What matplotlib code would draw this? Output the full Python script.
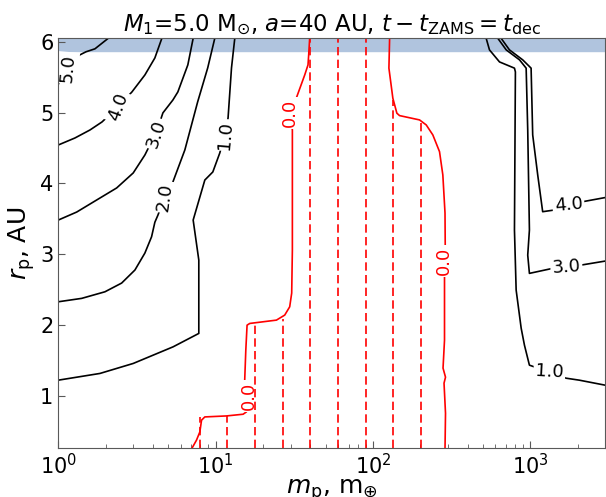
import numpy as np
import matplotlib.pyplot as plt

# контуры: m_p в массах Земли, r_p в AU
# чёрные контуры слева (уровни 5, 4, 3, 2, 1)
c5_m = [1.0, 1.071, 1.152, 1.296, 1.50, 1.71, 2.078]
c5_r = [5.40, 5.52, 5.64, 5.788, 5.859, 5.901, 6.05]

c4_m = [1.0, 1.276, 1.590, 1.895, 2.393, 2.938, 3.552, 4.11, 4.553]
c4_r = [4.543, 4.642, 4.755, 4.868, 5.080, 5.292, 5.532, 5.772, 6.05]

c3_m = [1.0, 1.309, 1.753, 2.349, 2.994, 3.552, 3.821, 4.172, 4.623, 5.35, 5.754, 6.66, 7.2]
c3_r = [3.483, 3.596, 3.766, 3.936, 4.148, 4.402, 4.543, 4.699, 4.996, 5.178, 5.292, 5.674, 6.05]

c2_m = [1.0, 1.408, 1.979, 2.527, 3.069, 3.552, 3.917, 4.11, 4.296, 4.76, 5.35, 6.375, 7.69, 8.91, 9.88]
c2_r = [2.329, 2.377, 2.47, 2.593, 2.777, 3.017, 3.247, 3.452, 3.551, 3.808, 4.02, 4.473, 5.152, 5.632, 6.05]

c1_m = [1.0, 1.84, 2.994, 5.37, 7.82, 7.82, 7.82, 7.2, 8.54, 9.6, 10.63, 11.44, 12.0, 12.62, 13.24]
c1_r = [1.222, 1.317, 1.458, 1.693, 1.882, 2.353, 2.918, 3.483, 4.048, 4.162, 4.43, 4.684, 4.924, 5.632, 6.05]

# чёрные контуры справа (уровни 1, 3, 4)
d1_m = [524.8, 550.8, 637.9, 794, 805, 794, 813.9, 875.8, 918.9, 988.3, 1324, 1690, 2052, 3000]
d1_r = [6.05, 5.886, 5.716, 5.628, 5.575, 3.342, 2.494, 1.957, 1.717, 1.434, 1.335, 1.25, 1.222, 1.151]

d3_m = [622.3, 703.6, 855.1, 942.2, 964.2, 988.3, 964.2, 988.3, 1389, 1698, 2103, 3000]
d3_r = [6.05, 5.886, 5.745, 5.628, 4.755, 3.342, 2.988, 2.73, 2.801, 2.819, 2.847, 2.904]

d4_m = [653.1, 737.9, 896.1, 1013, 1037, 1116, 1200, 1425, 1750, 2154, 3000]
d4_r = [6.05, 5.886, 5.745, 5.628, 4.685, 4.12, 3.601, 3.625, 3.695, 3.742, 3.801]

# красные контуры уровня 0
z1_m = [7.03, 7.56, 7.94, 8.14, 8.54, 11.73, 14.95, 15.71, 16.25, 15.31, 15.56, 15.85, 16.49,
        24.36, 27.5, 29.58, 30.46, 30.76, 30.76, 30.76, 29.58, 32.78, 36.86, 38.67, 39.06, 39.63]
z1_r = [0.25, 0.375, 0.491, 0.657, 0.703, 0.717, 0.741, 0.774, 0.996, 1.222, 1.646, 1.999, 2.023,
        2.07, 2.141, 2.258, 2.452, 3.059, 3.837, 4.755, 4.995, 5.221, 5.532, 5.674, 5.815, 6.05]

z2_m = [127.7, 126.4, 133.9, 142, 147.7, 197.9, 218.3, 240.4, 265.1, 278.3, 287.3, 288.2, 281.2,
        285.2, 285.2, 279.1, 289.4, 283.2, 289.4, 287.3]
z2_r = [6.05, 5.628, 5.203, 4.992, 4.958, 4.897, 4.826, 4.685, 4.449, 4.12, 3.582, 3.13, 2.904,
        2.707, 1.787, 1.392, 1.264, 1.18, 0.755, 0.25]

# пунктирные вертикали: масса и верхний край
dash_m = [7.9, 11.85, 17.8, 26.7, 40, 60, 90, 135, 202.5]
dash_top = [0.70, 0.713, 2.013, 2.09, 6.05, 6.05, 6.05, 5.18, 4.854]

# подписи контуров: текст, m, r, поворот, цвет
labels = [
    ('5.0', 1.152, 5.63, 85, 'k'),
    ('4.0', 2.393, 5.08, 70, 'k'),
    ('3.0', 4.172, 4.699, 72, 'k'),
    ('2.0', 4.76, 3.808, 82, 'k'),
    ('1.0', 11.44, 4.684, 85, 'k'),
    ('4.0', 1750, 3.695, 5, 'k'),
    ('3.0', 1698, 2.819, 4, 'k'),
    ('1.0', 1324, 1.335, -3, 'k'),
    ('0.0', 29.58, 4.995, 90, 'r'),
    ('0.0', 16.25, 0.996, 90, 'r'),
    ('0.0', 281.2, 2.904, 90, 'r'),
]

r_limit = 5.866
ylim = (0.26, 6.05)
xlim = (1, 3000)

fig, ax = plt.subplots(figsize=(6.06, 4.97), dpi=100)
fig.subplots_adjust(left=0.0962, right=0.9988, bottom=0.098, top=0.923)

ax.axhspan(r_limit, ylim[1], color='lightsteelblue', zorder=0)

for m, r in [(c5_m, c5_r), (c4_m, c4_r), (c3_m, c3_r), (c2_m, c2_r), (c1_m, c1_r),
             (d1_m, d1_r), (d3_m, d3_r), (d4_m, d4_r)]:
    ax.plot(m, r, color='k', lw=1.2, zorder=2)
for m, r in [(z1_m, z1_r), (z2_m, z2_r)]:
    ax.plot(m, r, color='r', lw=1.2, zorder=2)

ax.vlines(dash_m, ylim[0], dash_top, colors='r', lw=1.2, linestyles=(0, (5, 2.6)), zorder=4)

for s, m, r, rot, c in labels:
    t = ax.text(m, r, s, color=c, fontsize=13, rotation=rot, ha='center', va='center',
                rotation_mode='anchor', zorder=3, clip_on=True,
                bbox=dict(boxstyle='square,pad=0.1', fc='white', ec='none'))
    t.get_bbox_patch().set_clip_on(True)

ax.set_xscale('log')
ax.set_xlim(xlim)
ax.set_ylim(ylim)
ax.set_yticks([1, 2, 3, 4, 5, 6])
ax.tick_params(which='both', direction='in', labelsize=15, color='0.35')
ax.tick_params(which='major', length=5)
ax.tick_params(which='minor', length=3)
for sp in ax.spines.values():
    sp.set_color('0.35')
    sp.set_zorder(5)

ax.set_title(r'$M_1$=5.0 M$_{\odot}$, $a$=40 AU, $t-t_{\rm ZAMS}=t_{\rm dec}$', fontsize=16.5, pad=3)
ax.set_xlabel(r'$m_{\rm p}$, m$_{\oplus}$', fontsize=18, labelpad=-1)
ax.set_ylabel(r'$r_{\rm p}$, AU', fontsize=18, labelpad=2)

plt.savefig('out.png', dpi=100)
